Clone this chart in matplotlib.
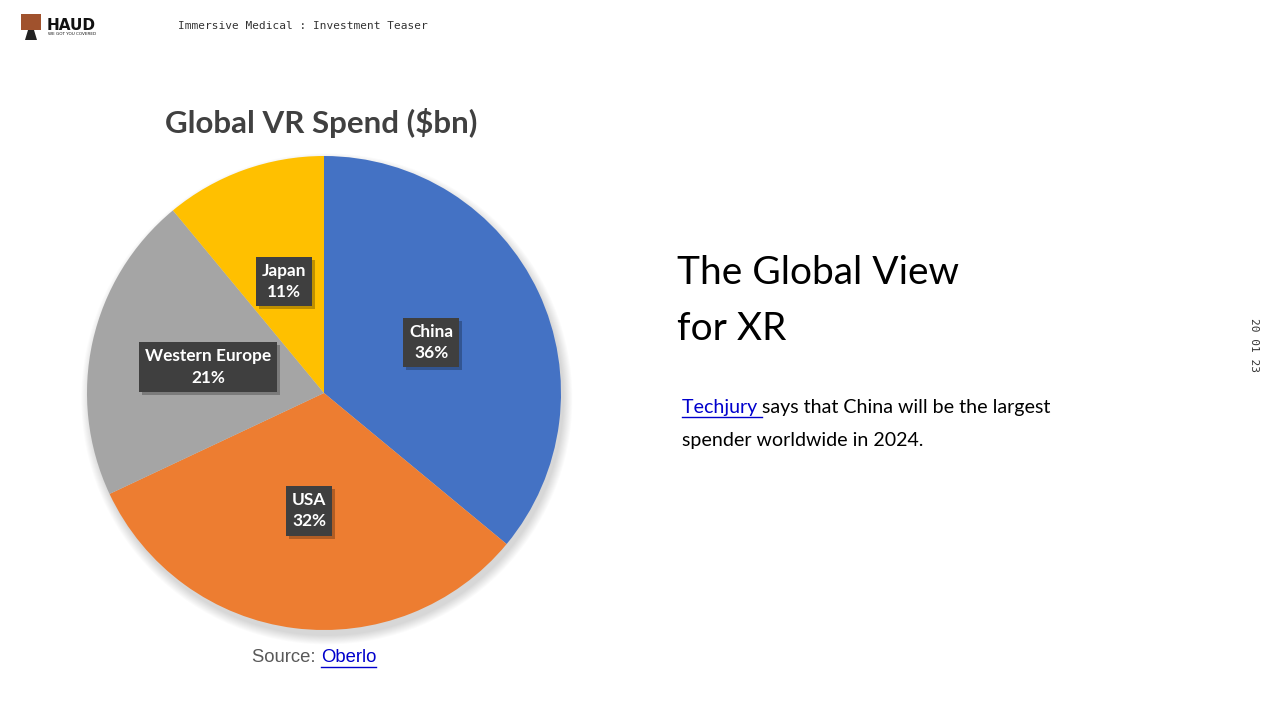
import matplotlib
matplotlib.use('Agg')
import matplotlib.pyplot as plt
from matplotlib.patches import Circle, Rectangle, Polygon
from matplotlib.lines import Line2D

# ---- data ----
regions = ['China', 'USA', 'Western Europe', 'Japan']
shares = [36, 32, 21, 11]
colors = ['#4472C4', '#ED7D31', '#A5A5A5', '#FFC000']

title = 'Global VR Spend ($bn)'
heading_lines = ['The Global View', 'for XR']
link_word = 'Techjury '
body_line1 = 'says that China will be the largest'
body_line2 = 'spender worldwide in 2024.'
source_prefix = 'Source: '
source_link = 'Oberlo'
header_text = 'Immersive Medical : Investment Teaser'
date_text = '20 01 23'
logo_text = 'HAUD'
logo_sub = 'WE GOT YOU COVERED'

W, H = 1280, 720
fig = plt.figure(figsize=(12.8, 7.2), dpi=100)
fig.patch.set_facecolor('white')


def fx(px):
    return px / W


def fy(py):
    return 1 - py / H


# ---- pie ----
cx, cy, r = 324, 393, 237
ax = fig.add_axes([fx(cx - r), fy(cy + r), 2 * r / W, 2 * r / H])

# soft shadow
for i in range(10):
    ax.add_patch(Circle((0.012, -0.025), 1.0 + 0.004 * i, fc='black', ec='none',
                        alpha=0.016, zorder=0, clip_on=False))

labels = [f'{n}\n{v}%' for n, v in zip(regions, shares)]
lab_font = dict(fontsize=12.4, fontweight='bold', family='Lato', linespacing=1.45)
wedges, texts = ax.pie(shares, colors=colors, startangle=90, counterclock=False,
                       radius=1, labels=labels, labeldistance=0.5,
                       wedgeprops=dict(linewidth=0),
                       textprops=dict(color='white', **lab_font))
ax.set_xlim(-1, 1)
ax.set_ylim(-1, 1)
ax.set_aspect('equal')
ax.axis('off')
for w in wedges:
    w.set_zorder(1)
for t in texts:
    t.set_ha('center')
    t.set_va('center')
    t.set_zorder(4)
    t.set_bbox(dict(boxstyle='square,pad=0.35', fc='#3f3f3f', ec='none'))

# ---- chart title ----
fig.text(fx(321), fy(123), title, ha='center', va='center', fontsize=22.5,
         fontweight='bold', family='Lato', color='#404040')

fig.canvas.draw()
renderer = fig.canvas.get_renderer()

# drop shadows behind label boxes (between wedges and boxes)
inv = ax.transData.inverted()
for t in texts:
    bb = t.get_bbox_patch().get_window_extent(renderer)
    (dx0, dy0), (dx1, dy1) = inv.transform([(bb.x0 + 3, bb.y0 - 3), (bb.x1 + 3, bb.y1 - 3)])
    ax.add_patch(Rectangle((dx0, dy0), dx1 - dx0, dy1 - dy0, fc='black', ec='none',
                           alpha=0.25, zorder=3))

# ---- source line ----
src_size = 13.3
t1 = fig.text(0, fy(658), source_prefix, ha='left', va='center', fontsize=src_size,
              family='Liberation Sans', color='#595959')
t2 = fig.text(0, fy(658), source_link, ha='left', va='center', fontsize=src_size,
              family='Liberation Sans', color='#0000CC')
w1 = t1.get_window_extent(renderer).width
w2 = t2.get_window_extent(renderer).width
x0 = 314 - (w1 + w2) / 2
t1.set_x(fx(x0))
t2.set_x(fx(x0 + w1))
fig.add_artist(Line2D([fx(x0 + w1), fx(x0 + w1 + w2)], [fy(667), fy(667)],
                      color='#0000CC', lw=1.0))

# ---- right heading ----
for i, line in enumerate(heading_lines):
    fig.text(fx(677), fy(273 + 56 * i), line, ha='left', va='center', fontsize=28,
             family='Lato', color='black')

# ---- body text ----
body_size = 14.1
tl = fig.text(fx(682), fy(407), link_word, ha='left', va='center', fontsize=body_size,
              family='Lato', color='#0000CC')
wl = tl.get_window_extent(renderer).width
fig.text(fx(682 + wl), fy(407), body_line1, ha='left', va='center', fontsize=body_size,
         family='Lato', color='black')
fig.add_artist(Line2D([fx(682), fx(682 + wl)], [fy(417), fy(417)], color='#0000CC', lw=1.0))
fig.text(fx(682), fy(440), body_line2, ha='left', va='center', fontsize=body_size,
         family='Lato', color='black')

# ---- header ----
fig.text(fx(178), fy(26), header_text, ha='left', va='center', fontsize=8,
         family='DejaVu Sans Mono', color='#333333')
# logo
fig.add_artist(Rectangle((fx(21), fy(30)), 20 / W, 16 / H, transform=fig.transFigure,
                         fc='#A0522D', ec='none'))
fig.add_artist(Polygon([(fx(25), fy(40)), (fx(37), fy(40)), (fx(34), fy(30)), (fx(28), fy(30))],
                       closed=True, transform=fig.transFigure, fc='#222222', ec='none'))
fig.text(fx(47), fy(25), logo_text, ha='left', va='center', fontsize=11,
         fontweight='heavy', family='DejaVu Sans', color='#111111')
fig.text(fx(48), fy(34), logo_sub, ha='left', va='center', fontsize=3,
         family='DejaVu Sans', color='#111111')

# ---- date ----
fig.text(fx(1254), fy(345), date_text, ha='center', va='center', rotation=-90,
         fontsize=8, family='DejaVu Sans Mono', color='#333333')

fig.savefig('out.png', dpi=100, facecolor='white')
